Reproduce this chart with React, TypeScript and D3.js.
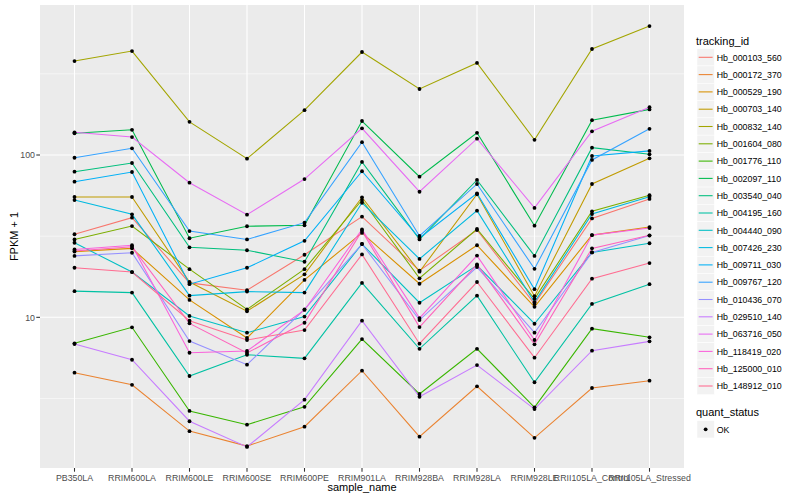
import * as d3 from "d3";

// sample order on the x axis
const samples = [
  "PB350LA",
  "RRIM600LA",
  "RRIM600LE",
  "RRIM600SE",
  "RRIM600PE",
  "RRIM901LA",
  "RRIM928BA",
  "RRIM928LA",
  "RRIM928LE",
  "RRII105LA_Control",
  "RRII105LA_Stressed",
];

const trackingIds = [
  "Hb_000103_560",
  "Hb_000172_370",
  "Hb_000529_190",
  "Hb_000703_140",
  "Hb_000832_140",
  "Hb_001604_080",
  "Hb_001776_110",
  "Hb_002097_110",
  "Hb_003540_040",
  "Hb_004195_160",
  "Hb_004440_090",
  "Hb_007426_230",
  "Hb_009711_030",
  "Hb_009767_120",
  "Hb_010436_070",
  "Hb_029510_140",
  "Hb_063716_050",
  "Hb_118419_020",
  "Hb_125000_010",
  "Hb_148912_010",
];

// FPKM + 1, one value per sample
const hb000103_560 = [32.5, 41.1, 16.3, 14.7, 24.3, 41.7, 19.4, 34.5, 12.1, 40.7, 53.6];
const hb000172_370 = [4.56, 3.84, 1.99, 1.61, 2.12, 4.69, 1.84, 3.76, 1.81, 3.67, 4.07];
const hb000529_190 = [25.4, 26.6, 12.8, 7.46, 17.0, 33.1, 16.1, 27.8, 11.6, 32.1, 36.0];
const hb000703_140 = [55.1, 55.1, 16.5, 10.9, 18.4, 54.9, 19.1, 57.3, 13.5, 66.3, 95.4];
const hb000832_140 = [379, 437, 160, 94.9, 189, 431, 255, 369, 124, 450, 623];
const hb001604_080 = [30.2, 36.5, 19.8, 11.2, 19.8, 52.8, 17.4, 35.0, 13.0, 45.0, 56.5];
const hb001776_110 = [6.92, 8.68, 2.65, 2.18, 2.81, 7.35, 3.37, 6.4, 2.79, 8.51, 7.53];
const hb002097_110 = [136, 143, 30.7, 36.4, 36.9, 162, 73.5, 137, 36.7, 164, 191];
const hb003540_040 = [78.9, 89.3, 27.0, 25.9, 22.0, 90.6, 30.2, 70.2, 23.9, 111, 101];
const hb004195_160 = [14.5, 14.2, 4.35, 5.88, 5.59, 16.3, 6.4, 13.6, 3.98, 12.1, 16.0];
const hb004440_090 = [28.8, 19.0, 10.2, 8.04, 10.1, 28.3, 12.3, 20.9, 9.13, 25.1, 28.6];
const hb007426_230 = [52.8, 43.1, 13.6, 14.4, 14.2, 50.8, 22.9, 45.4, 12.4, 43.3, 55.4];
const hb009711_030 = [68.5, 78.6, 16.0, 20.2, 29.6, 79.4, 30.8, 58.1, 14.9, 98.6, 106];
const hb009767_120 = [96.2, 110, 34.0, 30.2, 38.3, 120, 31.7, 66.3, 19.9, 93.2, 145];
const hb010436_070 = [23.9, 25.0, 7.14, 5.11, 11.2, 28.3, 9.62, 20.4, 8.04, 25.1, 31.9];
const hb029510_140 = [6.85, 5.48, 2.29, 1.59, 3.11, 9.53, 3.24, 5.08, 2.72, 6.23, 7.11];
const hb063716_050 = [138, 129, 67.5, 42.9, 71.1, 146, 59.4, 126, 47.2, 140, 197];
const hb118419_020 = [26.2, 27.8, 6.05, 6.2, 11.1, 34.8, 9.9, 24.0, 7.25, 32.1, 35.5];
const hb125000_010 = [25.6, 27.2, 9.18, 6.03, 9.26, 34.0, 8.71, 21.2, 6.82, 26.6, 32.0];
const hb148912_010 = [20.2, 19.0, 9.53, 7.25, 8.35, 24.4, 6.88, 16.5, 5.64, 17.3, 21.6];

const seriesValues = [
  hb000103_560, hb000172_370, hb000529_190, hb000703_140, hb000832_140,
  hb001604_080, hb001776_110, hb002097_110, hb003540_040, hb004195_160,
  hb004440_090, hb007426_230, hb009711_030, hb009767_120, hb010436_070,
  hb029510_140, hb063716_050, hb118419_020, hb125000_010, hb148912_010,
];

const yMajor = [10, 100];
const yMinor = [3.1623, 31.623, 316.23];
const statusLevels = ["OK"];

// ggplot hue palette, 20 levels
const palette = [
  "#F8766D", "#EA8331", "#D89000", "#C09B00", "#A3A500",
  "#7CAE00", "#39B600", "#00BB4E", "#00BF7D", "#00C1A3",
  "#00BFC4", "#00BAE0", "#00B0F6", "#35A2FF", "#9590FF",
  "#C77CFF", "#E76BF3", "#FA62DB", "#FF62BC", "#FF6C91",
];

const W = 800;
const H = 500;
const P = { left: 40, right: 684, top: 5, bottom: 468 };
const FONT = "'Liberation Sans', Arial, Helvetica, sans-serif";

export default function App() {
  const rows = trackingIds.map((id, i) => ({
    id,
    color: palette[i],
    pts: samples.map((s, j) => ({ s, v: seriesValues[i][j] })),
  }));

  // log axis with ggplot's 5% expansion in transformed space
  const all = seriesValues.flat();
  const lo = Math.log10(d3.min(all) as number);
  const hi = Math.log10(d3.max(all) as number);
  const pad = (hi - lo) * 0.05;

  const x = d3.scalePoint<string>().domain(samples).range([P.left, P.right]).padding(0.6);
  const y = d3.scaleLog().domain([10 ** (lo - pad), 10 ** (hi + pad)]).range([P.bottom, P.top]);

  const line = d3
    .line<{ s: string; v: number }>()
    .x((d) => x(d.s) as number)
    .y((d) => y(d.v));

  const keyX = 697;
  const keyH = 17.3;
  const key0 = 57.3;

  return (
    <svg
      width={W}
      height={H}
      style={{ position: "absolute", left: 0, top: 0, fontFamily: FONT }}
    >
      <rect width={W} height={H} fill="#ffffff" />
      <rect x={P.left} y={P.top} width={P.right - P.left} height={P.bottom - P.top} fill="#EBEBEB" />

      {yMinor.map((t) => (
        <line key={"mn" + t} x1={P.left} x2={P.right} y1={y(t)} y2={y(t)} stroke="#fff" strokeWidth={0.53} />
      ))}
      {yMajor.map((t) => (
        <line key={"mj" + t} x1={P.left} x2={P.right} y1={y(t)} y2={y(t)} stroke="#fff" strokeWidth={1.07} />
      ))}
      {samples.map((s) => (
        <line key={"vx" + s} x1={x(s)} x2={x(s)} y1={P.top} y2={P.bottom} stroke="#fff" strokeWidth={1.07} />
      ))}

      {rows.map((r) => (
        <path key={r.id} d={line(r.pts) ?? ""} fill="none" stroke={r.color} strokeWidth={1.07} />
      ))}
      {rows.map((r) =>
        r.pts.map((p) => (
          <circle key={r.id + p.s} cx={x(p.s)} cy={y(p.v)} r={1.9} fill="#000" />
        ))
      )}

      {/* y axis */}
      {yMajor.map((t) => (
        <g key={"yt" + t}>
          <line x1={P.left - 3.7} x2={P.left} y1={y(t)} y2={y(t)} stroke="#333333" strokeWidth={1.07} />
          <text x={P.left - 5} y={y(t) + 3.2} textAnchor="end" fontSize={8.8} fill="#4D4D4D">
            {t}
          </text>
        </g>
      ))}
      <text
        transform={`translate(18,${(P.top + P.bottom) / 2}) rotate(-90)`}
        textAnchor="middle"
        fontSize={11}
        fill="#000"
      >
        FPKM + 1
      </text>

      {/* x axis */}
      {samples.map((s) => (
        <g key={"xt" + s}>
          <line x1={x(s)} x2={x(s)} y1={P.bottom} y2={P.bottom + 3.7} stroke="#333333" strokeWidth={1.07} />
          <text x={x(s)} y={P.bottom + 12.5} textAnchor="middle" fontSize={8.8} fill="#4D4D4D">
            {s}
          </text>
        </g>
      ))}
      <text x={(P.left + P.right) / 2} y={491} textAnchor="middle" fontSize={11} fill="#000">
        sample_name
      </text>

      {/* legend: tracking_id */}
      <text x={696} y={44.5} fontSize={11} fill="#000">
        tracking_id
      </text>
      {rows.map((r, i) => {
        const cy = key0 + i * keyH;
        return (
          <g key={"lg" + r.id}>
            <rect x={keyX} y={cy - keyH / 2} width={keyH} height={keyH} fill="#F2F2F2" stroke="#fff" strokeWidth={0.5} />
            <line x1={keyX + 1.7} x2={keyX + keyH - 1.7} y1={cy} y2={cy} stroke={r.color} strokeWidth={1.07} />
            <text x={716.7} y={cy + 3.2} fontSize={8.8} fill="#000">
              {r.id}
            </text>
          </g>
        );
      })}

      {/* legend: quant_status */}
      <text x={696} y={416.3} fontSize={11} fill="#000">
        quant_status
      </text>
      {statusLevels.map((s, i) => {
        const cy = 429.3 + i * keyH;
        return (
          <g key={"qs" + s}>
            <rect x={keyX} y={cy - keyH / 2} width={keyH} height={keyH} fill="#F2F2F2" stroke="#fff" strokeWidth={0.5} />
            <circle cx={keyX + keyH / 2} cy={cy} r={1.9} fill="#000" />
            <text x={716.7} y={cy + 3.2} fontSize={8.8} fill="#000">
              {s}
            </text>
          </g>
        );
      })}
    </svg>
  );
}
